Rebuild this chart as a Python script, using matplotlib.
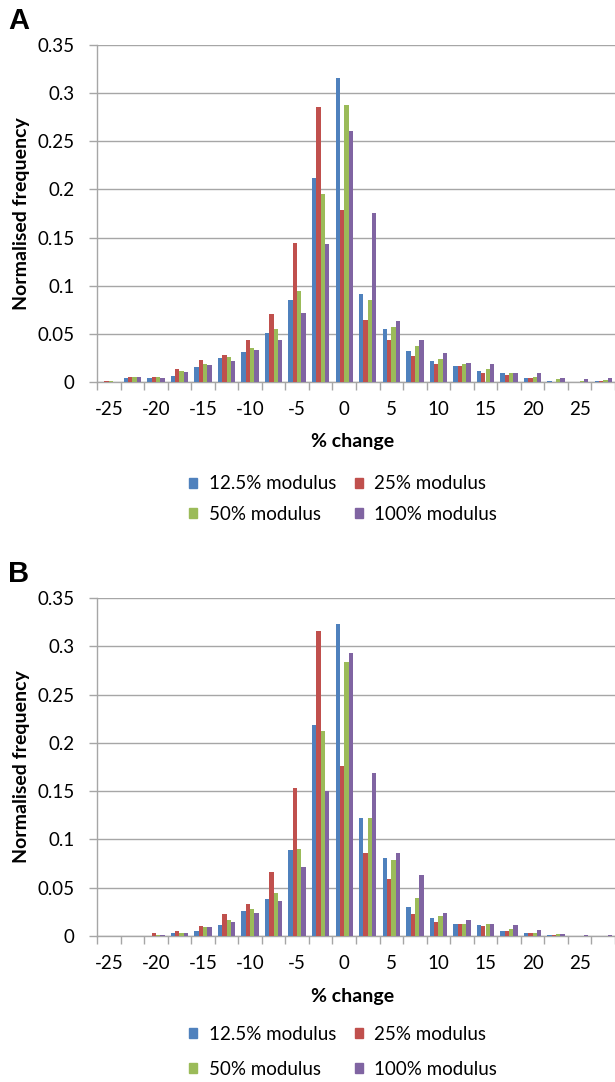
#!/usr/bin/env python

import matplotlib
matplotlib.use('Agg')
import matplotlib.pyplot as plt
from matplotlib.patches import Patch

plt.rcParams['font.family'] = ['Lato', 'DejaVu Sans']

# % change bins (category axis, every second one labelled)
categories = [-25, -22.5, -20, -17.5, -15, -12.5, -10, -7.5, -5, -2.5, 0,
              2.5, 5, 7.5, 10, 12.5, 15, 17.5, 20, 22.5, 25, 27.5]

series_names = ['12.5% modulus', '25% modulus', '50% modulus', '100% modulus']
series_colors = ['#4F81BD', '#C0504D', '#9BBB59', '#8064A2']

# panel A
a_125 = [0, 0.004, 0.0045, 0.0066, 0.0152, 0.0249, 0.031, 0.0512, 0.085,
         0.212, 0.316, 0.0913, 0.0553, 0.0322, 0.0214, 0.017, 0.0111,
         0.009, 0.0045, 0.0014, 0, 0.0014]
a_25 = [0.001, 0.005, 0.0055, 0.0138, 0.0228, 0.0277, 0.0436, 0.0705,
        0.1445, 0.286, 0.179, 0.0647, 0.0436, 0.027, 0.0183, 0.0163,
        0.0093, 0.0069, 0.0045, 0, 0, 0.0014]
a_50 = [0.001, 0.005, 0.005, 0.0118, 0.0187, 0.0256, 0.0353, 0.0546,
        0.0947, 0.195, 0.288, 0.0851, 0.0567, 0.0373, 0.0235, 0.0187,
        0.0138, 0.0097, 0.005, 0.003, 0.0014, 0.0024]
a_100 = [0, 0.005, 0.0045, 0.0107, 0.0173, 0.0214, 0.0332, 0.0436, 0.0712,
         0.1435, 0.261, 0.1753, 0.0636, 0.0436, 0.0301, 0.0194, 0.0187,
         0.0097, 0.009, 0.0045, 0.0028, 0.0045]

# panel B
b_125 = [0, 0, 0, 0.0028, 0.0048, 0.011, 0.0255, 0.0386, 0.0893, 0.218,
         0.323, 0.122, 0.081, 0.0303, 0.0186, 0.0121, 0.011, 0.0048,
         0.0028, 0.0014, 0, 0]
b_25 = [0, 0, 0.0028, 0.0055, 0.01, 0.0228, 0.0331, 0.0662, 0.1528, 0.316,
        0.176, 0.0862, 0.0586, 0.0228, 0.0145, 0.0121, 0.01, 0.0048,
        0.0028, 0.0014, 0, 0]
b_50 = [0, 0, 0.001, 0.003, 0.009, 0.0169, 0.028, 0.0448, 0.0903, 0.212,
        0.284, 0.122, 0.0786, 0.0397, 0.0207, 0.0121, 0.0121, 0.0076,
        0.003, 0.0024, 0, 0]
b_100 = [0, 0, 0.001, 0.003, 0.009, 0.0141, 0.0234, 0.0366, 0.0714, 0.150,
         0.293, 0.1686, 0.0862, 0.0628, 0.0238, 0.0166, 0.0121, 0.011,
         0.0059, 0.0024, 0.0014, 0.0014]

yticks = [0, 0.05, 0.1, 0.15, 0.2, 0.25, 0.3, 0.35]
ytick_labels = ['0', '0.05', '0.1', '0.15', '0.2', '0.25', '0.3', '0.35']

GRID = '#A6A6A6'
BAR_W = 0.184


def draw_panel(ax, series, letter, legend_y, row_gap):
    n = len(categories)
    idx = list(range(n))
    for k, (vals, col, name) in enumerate(zip(series, series_colors, series_names)):
        off = (k - 1.5) * BAR_W
        ax.bar([i + off for i in idx], vals, width=BAR_W, color=col,
               label=name, zorder=3, linewidth=0)

    ax.set_xlim(-0.5, n - 0.5)
    ax.set_ylim(0, 0.35)

    ax.set_yticks(yticks)
    ax.set_yticklabels(ytick_labels)
    ax.tick_params(axis='y', length=6, width=1, color=GRID, pad=10,
                   labelsize=13.5)
    ax.yaxis.grid(True, color=GRID, linewidth=1, zorder=0)

    # tick marks between groups, labels under every second group
    ax.set_xticks([i - 0.5 for i in range(n + 1)])
    ax.set_xticklabels([])
    ax.tick_params(axis='x', which='major', length=6, width=1, color=GRID,
                   direction='out')
    ax.set_xticks(idx[::2], minor=True)
    ax.set_xticklabels(['%g' % c for c in categories[::2]], minor=True)
    ax.tick_params(axis='x', which='minor', length=0, pad=14, labelsize=13.5)

    for side in ['top', 'right']:
        ax.spines[side].set_visible(False)
    for side in ['left', 'bottom']:
        ax.spines[side].set_color(GRID)
        ax.spines[side].set_linewidth(1)

    ax.set_ylabel('Normalised frequency', fontsize=14, fontweight='bold')
    ax.yaxis.set_label_coords(-0.13, 0.5)
    ax.text(0.494, -0.178, '% change', transform=ax.transAxes, ha='center',
            va='center', fontsize=14, fontweight='bold')

    ax.text(-0.172, 1.03, letter, transform=ax.transAxes, ha='left',
            va='bottom', fontsize=21, fontweight='bold',
            family='Liberation Sans')

    order = [0, 2, 1, 3]
    handles = [Patch(color=series_colors[i]) for i in order]
    labels = [series_names[i] for i in order]
    ax.legend(handles, labels, ncol=2, loc='center',
              bbox_to_anchor=(0.475, legend_y), frameon=False, fontsize=13.5,
              handlelength=0.45, handleheight=0.45, handletextpad=0.6,
              columnspacing=1.0, labelspacing=row_gap, borderaxespad=0)


fig = plt.figure(figsize=(6.15, 10.82), dpi=100)

ax1 = fig.add_axes([97 / 615, 1 - 382 / 1082, 518 / 615, 337 / 1082])
ax2 = fig.add_axes([97 / 615, 1 - 936 / 1082, 518 / 615, 338 / 1082])

draw_panel(ax1, [a_125, a_25, a_50, a_100], 'A', -0.347, 0.7)
draw_panel(ax2, [b_125, b_25, b_50, b_100], 'B', -0.343, 0.95)

plt.savefig('out.png', dpi=100)
